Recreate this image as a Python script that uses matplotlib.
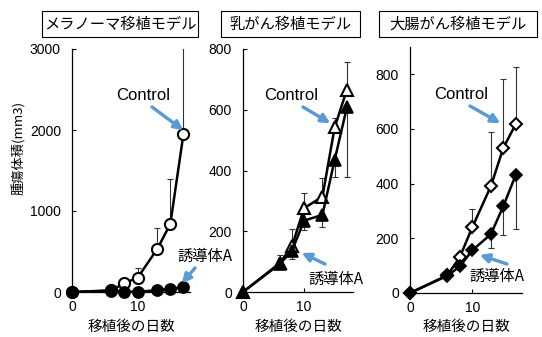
import matplotlib
matplotlib.use('Agg')
import matplotlib.pyplot as plt
from matplotlib.patches import Rectangle
import numpy as np

plt.rcParams['font.family'] = ['Liberation Sans', 'Noto Sans CJK JP']
JP = ['Noto Sans CJK JP', 'Liberation Sans']

# %%
days = [0, 6, 8, 10, 13, 15, 17]

# melanoma
mel_ctrl = [0, 20, 110, 175, 530, 840, 1950]
mel_ctrl_err = [0, 0, 50, 125, 260, 555, 1300]
mel_a = [0, 15, 5, 5, 20, 40, 60]
mel_a_err = [0, 0, 0, 0, 0, 0, 0]

# breast cancer
br_ctrl = [0, 95, 150, 276, 314, 542, 666]
br_ctrl_err = [0, 27, 57, 51, 61, 31, 91]
br_a = [0, 92, 135, 235, 254, 435, 608]
br_a_err = [0, 0, 28, 31, 39, 57, 228]

# colorectal cancer
co_ctrl = [0, 65, 131, 240, 391, 531, 618]
co_ctrl_err = [0, 0, 0, 66, 199, 251, 209]
co_a = [0, 63, 97, 156, 215, 318, 432]
co_a_err = [0, 0, 0, 0, 51, 106, 199]

titles = ['メラノーマ移植モデル', '乳がん移植モデル', '大腸がん移植モデル']
xlabel = '移植後の日数'
ylabel = '腫瘍体積(mm3)'
ylims = [3000, 800, 900]
yticks = [[0, 1000, 2000, 3000], [0, 200, 400, 600, 800], [0, 200, 400, 600, 800]]
markers = ['o', '^', 'D']
msizes = [8, 8, 6.5]

# %%
W, H = 542, 337
fig = plt.figure(figsize=(W / 100, H / 100), dpi=100)

def fx(px):
    return px / W

def fy(py):
    return 1 - py / H

ax_px = [(72, 190, 49, 292), (243, 353, 49, 292), (410, 522, 47, 293)]
axes = []
for (l, r, t, b) in ax_px:
    axes.append(fig.add_axes([fx(l), fy(b), fx(r) - fx(l), fy(t) - fy(b)]))

data = [(mel_ctrl, mel_ctrl_err, mel_a, mel_a_err),
        (br_ctrl, br_ctrl_err, br_a, br_a_err),
        (co_ctrl, co_ctrl_err, co_a, co_a_err)]

zeros = np.zeros(len(days))
for i, ax in enumerate(axes):
    ctrl, ctrl_err, a, a_err = data[i]
    # one-sided error bars: control up, derivative down
    ax.errorbar(days, ctrl, yerr=[zeros, ctrl_err], fmt='none', ecolor='#333333',
                elinewidth=0.8, capsize=2.5, capthick=0.8, zorder=1)
    ax.errorbar(days, a, yerr=[a_err, zeros], fmt='none', ecolor='#333333',
                elinewidth=0.8, capsize=2.5, capthick=0.8, zorder=1)
    ax.plot(days, ctrl, color='black', lw=1.8, marker=markers[i], ms=msizes[i],
            mfc='white', mec='black', mew=1.5, clip_on=False, zorder=3)
    ax.plot(days, a, color='black', lw=1.8, marker=markers[i], ms=msizes[i],
            mfc='black', mec='black', mew=1.2, clip_on=False, zorder=4)

    ax.set_xlim(0, 18)
    ax.set_ylim(0, ylims[i])
    ax.set_xticks([0, 10])
    ax.set_yticks(yticks[i])
    for s in ['top', 'right']:
        ax.spines[s].set_visible(False)
    for s in ['left', 'bottom']:
        ax.spines[s].set_linewidth(0.9)
    ax.tick_params(direction='in', length=3, width=0.8, labelsize=10)
    ax.tick_params(axis='y', pad=8)
    ax.tick_params(axis='x', pad=6)

# x labels under each panel
for (l, r, t, b) in ax_px:
    fig.text(fx((l + r) / 2), fy(327), xlabel, family=JP, fontsize=10.5,
             ha='center', va='center')

fig.text(fx(19), fy(148), ylabel, family=JP, fontsize=9.5, rotation=90,
         ha='center', va='center')

# boxed titles
boxes = [(42, 198), (221, 360), (379, 537)]
for (l, r), title in zip(boxes, titles):
    fig.patches.append(Rectangle((fx(l), fy(37)), fx(r) - fx(l), fy(11) - fy(37),
                                 transform=fig.transFigure, fc='white', ec='black',
                                 lw=0.8))
    fig.text(fx((l + r) / 2), fy(24), title, family=JP, fontsize=11,
             ha='center', va='center')

# labels with blue arrows
blue = '#5B9BD5'
notes = [('Control', (143, 95), (152, 107), (183, 130)),
         ('誘導体A', (205, 256), (195, 268), (182, 283)),
         ('Control', (291, 95), (303, 107), (330, 123)),
         ('誘導体A', (336, 279), (325, 264), (302, 253)),
         ('Control', (461, 94), (470, 106), (500, 123)),
         ('誘導体A', (497, 276), (507, 264), (480, 255))]
for text, (tx, ty), (x0, y0), (x1, y1) in notes:
    fam = ['Liberation Sans'] if text == 'Control' else JP
    size = 12 if text == 'Control' else 11
    fig.text(fx(tx), fy(ty), text, family=fam, fontsize=size, ha='center', va='center')
    fig.add_artist(plt.annotate('', xy=(fx(x1), fy(y1)), xytext=(fx(x0), fy(y0)),
                                xycoords='figure fraction', textcoords='figure fraction',
                                arrowprops=dict(arrowstyle='-|>', color=blue, lw=2.2,
                                                mutation_scale=13, shrinkA=0, shrinkB=0)))

plt.savefig('out.png', dpi=100)
plt.close('all')
